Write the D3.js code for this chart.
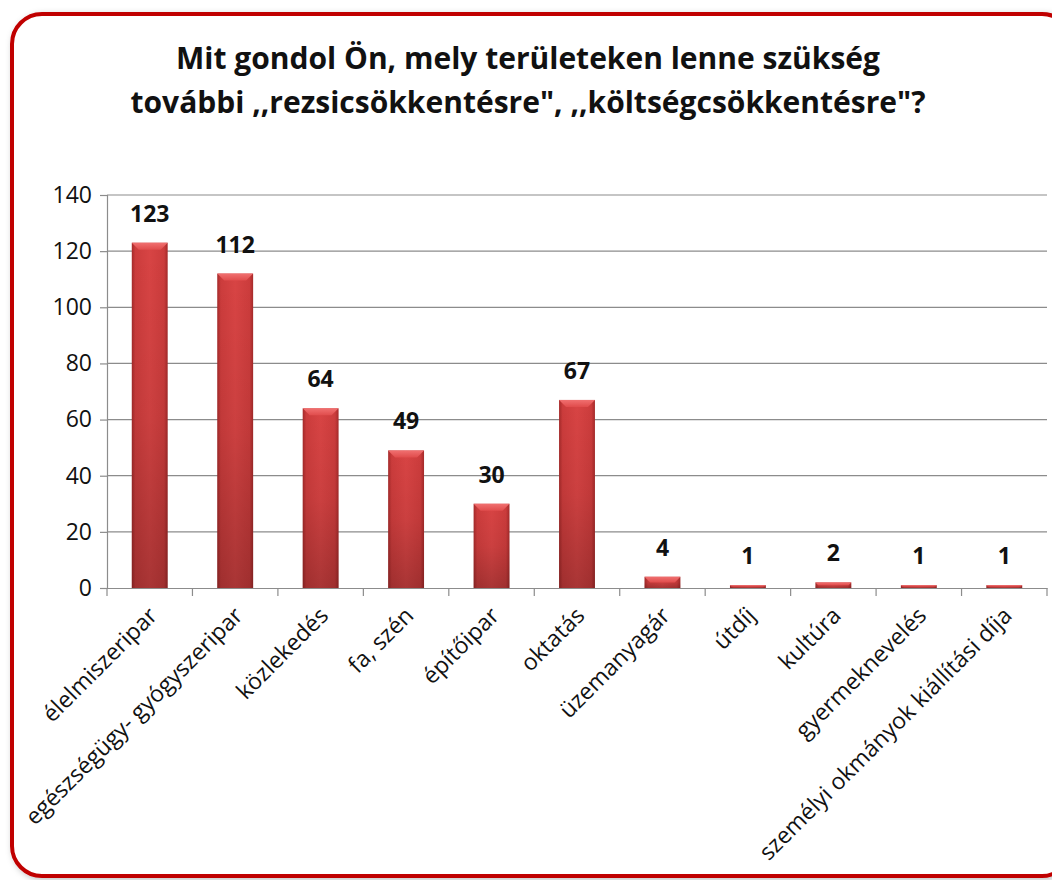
<!DOCTYPE html>
<html>
<head>
<meta charset="utf-8">
<style>
  body { margin: 0; background: #fff; }
  svg text { font-family: "Open Sans", "Noto Sans", sans-serif; }
  .title { font-size: 30px; font-weight: bold; fill: #111; text-anchor: middle; }
  .tick text { font-size: 23px; fill: #111; }
  .val { font-size: 23px; font-weight: bold; fill: #111; text-anchor: middle; }
</style>
</head>
<body>
<svg width="1052" height="880"></svg>
<script src="https://cdn.jsdelivr.net/npm/d3@7"></script>
<script>
var categories = ["élelmiszeripar", "egészségügy- gyógyszeripar", "közlekedés", "fa, szén",
  "építőipar", "oktatás", "üzemanyagár", "útdíj", "kultúra", "gyermeknevelés",
  "személyi okmányok kiállítási díja"];
var values = [123, 112, 64, 49, 30, 67, 4, 1, 2, 1, 1];
var yTicks = [0, 20, 40, 60, 80, 100, 120, 140];
var titleLines = ["Mit gondol Ön, mely területeken lenne szükség",
  "további ,,rezsicsökkentésre\", ,,költségcsökkentésre\"?"];

var svg = d3.select("svg");
var defs = svg.append("defs");

var sh = defs.append("filter").attr("id", "shadow").attr("x", "-5%").attr("y", "-5%")
  .attr("width", "110%").attr("height", "110%");
sh.append("feDropShadow").attr("dx", 2).attr("dy", 2).attr("stdDeviation", 3)
  .attr("flood-color", "#000").attr("flood-opacity", 0.25);

var grad = defs.append("linearGradient").attr("id", "barGrad")
  .attr("x1", "0%").attr("x2", "100%").attr("y1", "0%").attr("y2", "0%");
grad.append("stop").attr("offset", "0%").attr("stop-color", "#a52a2a");
grad.append("stop").attr("offset", "10%").attr("stop-color", "#cc3c3c");
grad.append("stop").attr("offset", "50%").attr("stop-color", "#d84444");
grad.append("stop").attr("offset", "90%").attr("stop-color", "#cc3c3c");
grad.append("stop").attr("offset", "100%").attr("stop-color", "#a52a2a");

var vgrad = defs.append("linearGradient").attr("id", "barShade")
  .attr("x1", "0%").attr("x2", "0%").attr("y1", "0%").attr("y2", "100%");
vgrad.append("stop").attr("offset", "0%").attr("stop-color", "#000").attr("stop-opacity", 0);
vgrad.append("stop").attr("offset", "50%").attr("stop-color", "#000").attr("stop-opacity", 0.06);
vgrad.append("stop").attr("offset", "100%").attr("stop-color", "#000").attr("stop-opacity", 0.22);

var bevel = defs.append("linearGradient").attr("id", "bevelGrad")
  .attr("x1", "0%").attr("x2", "0%").attr("y1", "0%").attr("y2", "100%");
bevel.append("stop").attr("offset", "0%").attr("stop-color", "#f07070");
bevel.append("stop").attr("offset", "100%").attr("stop-color", "#e04c4c");

// frame
svg.append("rect")
  .attr("x", 12).attr("y", 14).attr("width", 1060).attr("height", 862)
  .attr("rx", 30).attr("ry", 30)
  .attr("fill", "#fff").attr("stroke", "#c00000").attr("stroke-width", 4)
  .attr("filter", "url(#shadow)");

// title
svg.selectAll("text.title").data(titleLines).enter().append("text")
  .attr("class", "title")
  .attr("x", 528)
  .attr("y", function(d, i) { return 69 + i * 44; })
  .text(function(d) { return d; });

var margin = { left: 107, top: 195 };
var width = 1047 - margin.left, height = 588 - margin.top;
var g = svg.append("g").attr("transform", "translate(" + margin.left + "," + margin.top + ")");

var x = d3.scaleBand().domain(categories).range([0, width]).paddingInner(0.58).paddingOuter(0.29);
var y = d3.scaleLinear().domain([0, 140]).range([height, 0]);

// gridlines
g.selectAll("line.grid").data(yTicks.slice(1)).enter().append("line")
  .attr("class", "grid")
  .attr("x1", 0).attr("x2", width)
  .attr("y1", function(d) { return y(d); }).attr("y2", function(d) { return y(d); })
  .attr("stroke", "#8c8c8c").attr("stroke-width", 1.2);

// y axis
var yAxis = g.append("g")
  .call(d3.axisLeft(y).tickValues(yTicks).tickSize(7).tickPadding(8));
yAxis.select(".domain").attr("stroke", "#8c8c8c").attr("stroke-width", 1.2);
yAxis.selectAll(".tick line").attr("stroke", "#8c8c8c").attr("stroke-width", 1.2);

// bars
var bars = g.selectAll("g.bar").data(values).enter().append("g").attr("class", "bar");
bars.append("rect")
  .attr("x", function(d, i) { return x(categories[i]); })
  .attr("y", function(d) { return y(d); })
  .attr("width", x.bandwidth())
  .attr("height", function(d) { return y(0) - y(d); })
  .attr("fill", "url(#barGrad)");
bars.append("rect")
  .attr("x", function(d, i) { return x(categories[i]); })
  .attr("y", function(d) { return y(d); })
  .attr("width", x.bandwidth())
  .attr("height", function(d) { return y(0) - y(d); })
  .attr("fill", "url(#barShade)");
// bevel top
bars.append("path")
  .attr("d", function(d, i) {
    var x0 = x(categories[i]), x1 = x0 + x.bandwidth(), yt = y(d);
    var b = Math.min(7, (y(0) - yt) / 2);
    return "M" + x0 + "," + yt + "L" + x1 + "," + yt + "L" + (x1 - b) + "," + (yt + b) +
      "L" + (x0 + b) + "," + (yt + b) + "Z";
  })
  .attr("fill", "url(#bevelGrad)");

// value labels
g.selectAll("text.val").data(values).enter().append("text")
  .attr("class", "val")
  .attr("x", function(d, i) { return x(categories[i]) + x.bandwidth() / 2; })
  .attr("y", function(d) { return y(d) - 21; })
  .text(function(d) { return d; });

// x axis
var xAxis = g.append("g").attr("transform", "translate(0," + height + ")")
  .call(d3.axisBottom(x).tickSize(0).tickPadding(0));
xAxis.select(".domain").attr("stroke", "#8c8c8c").attr("stroke-width", 1.2);
xAxis.selectAll(".tick text")
  .attr("text-anchor", "end")
  .attr("dy", "0")
  .attr("transform", "translate(9,29) rotate(-45)");
var bounds = d3.range(categories.length + 1).map(function(i) { return i * x.step(); });
xAxis.selectAll("line.sep").data(bounds).enter().append("line")
  .attr("class", "sep")
  .attr("x1", function(d) { return d; }).attr("x2", function(d) { return d; })
  .attr("y1", 0).attr("y2", 8)
  .attr("stroke", "#8c8c8c").attr("stroke-width", 1.2);
</script>
</body>
</html>
